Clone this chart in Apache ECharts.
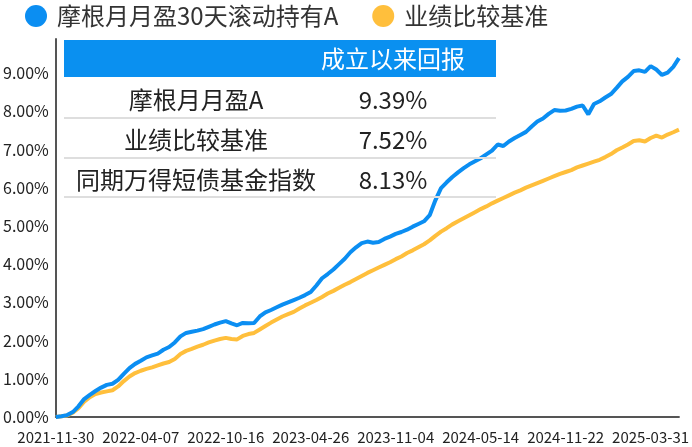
<!DOCTYPE html>
<html><head><meta charset="utf-8">
<script src="https://cdn.jsdelivr.net/npm/echarts@6/dist/echarts.min.js"></script>
<style>html,body{margin:0;padding:0;background:#fff}#c{width:692px;height:447px}</style>
</head><body><div id="c"></div>
<script>
const dates = [
'2021-11-30','2021-12-09','2021-12-17','2021-12-26','2022-01-03','2022-01-12','2022-01-20','2022-01-29','2022-02-06','2022-02-15','2022-02-23','2022-03-04','2022-03-12','2022-03-21','2022-03-29','2022-04-07',
'2022-04-20','2022-05-03','2022-05-15','2022-05-28','2022-06-10','2022-06-23','2022-07-06','2022-07-18','2022-07-31','2022-08-13','2022-08-26','2022-09-08','2022-09-20','2022-10-03','2022-10-16',
'2022-10-29','2022-11-11','2022-11-23','2022-12-06','2022-12-19','2023-01-01','2023-01-14','2023-01-26','2023-02-08','2023-02-21','2023-03-06','2023-03-19','2023-03-31','2023-04-13','2023-04-26',
'2023-05-09','2023-05-22','2023-06-03','2023-06-16','2023-06-29','2023-07-12','2023-07-25','2023-08-06','2023-08-19','2023-09-01','2023-09-14','2023-09-27','2023-10-09','2023-10-22','2023-11-04',
'2023-11-17','2023-11-30','2023-12-12','2023-12-25','2024-01-07','2024-01-20','2024-02-02','2024-02-14','2024-02-27','2024-03-11','2024-03-24','2024-04-06','2024-04-18','2024-05-01','2024-05-14',
'2024-05-27','2024-06-09','2024-06-21','2024-07-04','2024-07-17','2024-07-30','2024-08-12','2024-08-24','2024-09-06','2024-09-19','2024-10-02','2024-10-15','2024-10-27','2024-11-09','2024-11-22',
'2024-11-30','2024-12-09','2024-12-18','2024-12-26','2025-01-04','2025-01-13','2025-01-21','2025-01-30','2025-02-08','2025-02-16','2025-02-25','2025-03-06','2025-03-14','2025-03-23','2025-03-31',
'2025-04-09','2025-04-17','2025-04-26','2025-05-05','2025-05-13'
];
const fundName = '摩根月月盈30天滚动持有A';
const benchName = '业绩比较基准';
const fundValues = [
0,0.02,0.05,0.13,0.28,0.47,0.58,0.68,0.77,0.84,0.87,0.97,1.13,1.28,1.39,1.47,
1.56,1.61,1.66,1.76,1.83,1.95,2.11,2.20,2.23,2.26,2.30,2.36,2.42,2.47,2.51,
2.45,2.40,2.46,2.45,2.46,2.63,2.74,2.80,2.87,2.94,3.00,3.06,3.12,3.19,3.27,
3.44,3.63,3.74,3.86,4.00,4.14,4.31,4.44,4.55,4.59,4.56,4.58,4.66,4.72,4.79,
4.84,4.90,4.98,5.05,5.12,5.28,5.67,5.99,6.14,6.28,6.40,6.51,6.61,6.69,6.77,
6.87,6.97,7.13,7.09,7.21,7.30,7.38,7.46,7.60,7.73,7.81,7.93,8.03,8.01,8.02,
8.06,8.12,8.15,7.92,8.19,8.26,8.36,8.45,8.61,8.78,8.90,9.05,9.07,9.03,9.18,
9.09,8.95,9.01,9.16,9.39
];
const benchValues = [
0,0.02,0.04,0.11,0.23,0.40,0.52,0.60,0.64,0.67,0.70,0.80,0.94,1.06,1.15,1.21,
1.26,1.30,1.35,1.40,1.44,1.52,1.65,1.73,1.78,1.84,1.89,1.95,2.00,2.04,2.07,
2.04,2.03,2.12,2.17,2.20,2.29,2.38,2.47,2.55,2.63,2.69,2.75,2.84,2.92,2.99,
3.06,3.14,3.23,3.30,3.38,3.46,3.53,3.61,3.69,3.77,3.84,3.91,3.98,4.05,4.13,
4.20,4.29,4.36,4.44,4.52,4.62,4.74,4.85,4.94,5.04,5.12,5.20,5.28,5.36,5.44,
5.51,5.59,5.66,5.73,5.80,5.87,5.93,6.00,6.06,6.12,6.18,6.24,6.30,6.36,6.41,
6.46,6.53,6.58,6.63,6.68,6.73,6.80,6.88,6.98,7.05,7.13,7.22,7.24,7.21,7.30,
7.36,7.31,7.39,7.45,7.52
];
const tableHeader = '成立以来回报';
const tableNames = ['摩根月月盈A', '业绩比较基准', '同期万得短债基金指数'];
const tableValues = ['9.39%', '7.52%', '8.13%'];

const FONT = '"Noto Sans CJK SC", "Noto Sans", sans-serif';
const BLUE = '#0b8ef2', ORANGE = '#ffbf3c';
const chart = echarts.init(document.getElementById('c'), null, {renderer: 'canvas'});

const graphics = [
  {type: 'rect', shape: {x: 64, y: 40, width: 432, height: 37}, style: {fill: '#0a90f0'}, z: 10},
  {type: 'text', x: 393, y: 58.5, style: {text: tableHeader, fill: '#fff', font: '24px ' + FONT, textAlign: 'center', textVerticalAlign: 'middle'}, z: 11}
];
const rowY = [100, 140, 180];
const sepY = [118, 158, 197];
tableNames.forEach((n, i) => {
  graphics.push({type: 'text', x: 196, y: rowY[i], style: {text: n, fill: '#222', font: '24px ' + FONT, textAlign: 'center', textVerticalAlign: 'middle'}, z: 11});
  graphics.push({type: 'text', x: 393, y: rowY[i], style: {text: tableValues[i], fill: '#222', font: '24px ' + FONT, textAlign: 'center', textVerticalAlign: 'middle'}, z: 11});
  graphics.push({type: 'line', shape: {x1: 64, y1: sepY[i], x2: 496, y2: sepY[i]}, style: {stroke: '#dedede', lineWidth: 2}, z: 11});
});

chart.setOption({
  animation: false,
  textStyle: {fontFamily: FONT},
  legend: {
    data: [fundName, benchName], left: 25, top: 4, padding: 0,
    icon: 'circle', itemWidth: 32, itemHeight: 22, itemGap: 34,
    textStyle: {fontSize: 24, color: '#333', fontFamily: FONT}
  },
  grid: {left: 53, right: 13, top: 39, bottom: 30, containLabel: false},
  xAxis: {
    type: 'category', data: dates, boundaryGap: false,
    axisLine: {lineStyle: {color: '#555', width: 2}},
    axisTick: {show: false},
    axisLabel: {interval: 14, fontSize: 15, color: '#222', margin: 13, fontFamily: FONT}
  },
  yAxis: {
    type: 'value', min: 0, max: 9.89, interval: 1,
    axisLine: {show: true, lineStyle: {color: '#555', width: 2}},
    axisTick: {show: false},
    splitLine: {show: false},
    axisLabel: {fontSize: 16, color: '#222', margin: 7, showMaxLabel: false, fontFamily: FONT,
      formatter: v => v.toFixed(2) + '%'}
  },
  series: [
    {name: fundName, type: 'line', data: fundValues, showSymbol: false, z: 3,
     itemStyle: {color: BLUE}, lineStyle: {color: BLUE, width: 4}},
    {name: benchName, type: 'line', data: benchValues, showSymbol: false, z: 2,
     itemStyle: {color: ORANGE}, lineStyle: {color: ORANGE, width: 4}}
  ],
  graphic: graphics
});
</script></body></html>
